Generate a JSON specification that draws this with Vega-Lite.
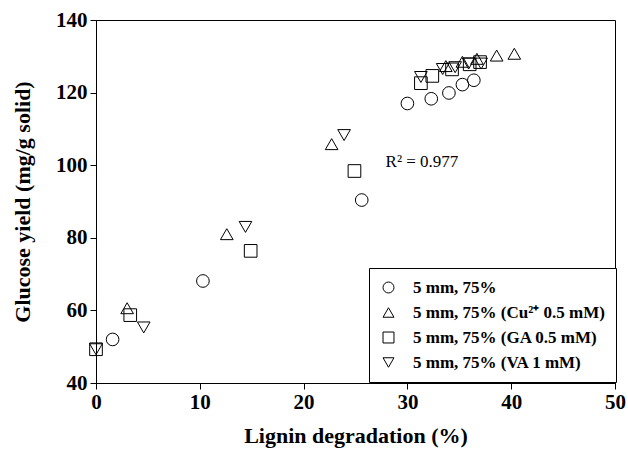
{
  "$schema": "https://vega.github.io/schema/vega-lite/v6.json",
  "width": 519,
  "height": 363,
  "autosize": "none",
  "padding": {"left": 96, "top": 20, "right": 13, "bottom": 82},
  "config": {
    "view": {"stroke": "black", "strokeWidth": 1},
    "font": "Liberation Serif"
  },
  "datasets": {
    "pts": [
      {"series": "5 mm, 75%", "lignin": 1.6, "glucose": 52.0},
      {"series": "5 mm, 75%", "lignin": 10.3, "glucose": 68.1},
      {"series": "5 mm, 75%", "lignin": 25.6, "glucose": 90.4},
      {"series": "5 mm, 75%", "lignin": 30.0, "glucose": 117.0},
      {"series": "5 mm, 75%", "lignin": 32.3, "glucose": 118.3},
      {"series": "5 mm, 75%", "lignin": 34.0, "glucose": 119.9},
      {"series": "5 mm, 75%", "lignin": 35.3, "glucose": 122.2},
      {"series": "5 mm, 75%", "lignin": 36.4, "glucose": 123.4},
      {"series": "5 mm, 75% (Cu²⁺ 0.5 mM)", "lignin": 3.0, "glucose": 60.6},
      {"series": "5 mm, 75% (Cu²⁺ 0.5 mM)", "lignin": 12.6, "glucose": 81.0},
      {"series": "5 mm, 75% (Cu²⁺ 0.5 mM)", "lignin": 22.7, "glucose": 105.8},
      {"series": "5 mm, 75% (Cu²⁺ 0.5 mM)", "lignin": 33.7, "glucose": 127.3},
      {"series": "5 mm, 75% (Cu²⁺ 0.5 mM)", "lignin": 35.3, "glucose": 128.5},
      {"series": "5 mm, 75% (Cu²⁺ 0.5 mM)", "lignin": 36.7, "glucose": 129.3},
      {"series": "5 mm, 75% (Cu²⁺ 0.5 mM)", "lignin": 38.6, "glucose": 130.2},
      {"series": "5 mm, 75% (Cu²⁺ 0.5 mM)", "lignin": 40.3, "glucose": 130.7},
      {"series": "5 mm, 75% (GA 0.5 mM)", "lignin": 0.0, "glucose": 49.3},
      {"series": "5 mm, 75% (GA 0.5 mM)", "lignin": 3.3, "glucose": 58.7},
      {"series": "5 mm, 75% (GA 0.5 mM)", "lignin": 14.9, "glucose": 76.4},
      {"series": "5 mm, 75% (GA 0.5 mM)", "lignin": 24.9, "glucose": 98.4},
      {"series": "5 mm, 75% (GA 0.5 mM)", "lignin": 31.3, "glucose": 122.6},
      {"series": "5 mm, 75% (GA 0.5 mM)", "lignin": 32.4, "glucose": 124.6},
      {"series": "5 mm, 75% (GA 0.5 mM)", "lignin": 34.3, "glucose": 126.4},
      {"series": "5 mm, 75% (GA 0.5 mM)", "lignin": 36.0, "glucose": 127.8},
      {"series": "5 mm, 75% (GA 0.5 mM)", "lignin": 37.0, "glucose": 128.4},
      {"series": "5 mm, 75% (VA 1 mM)", "lignin": 0.0, "glucose": 49.3},
      {"series": "5 mm, 75% (VA 1 mM)", "lignin": 4.6, "glucose": 55.3},
      {"series": "5 mm, 75% (VA 1 mM)", "lignin": 14.4, "glucose": 83.0},
      {"series": "5 mm, 75% (VA 1 mM)", "lignin": 23.9, "glucose": 108.3},
      {"series": "5 mm, 75% (VA 1 mM)", "lignin": 31.3, "glucose": 124.3},
      {"series": "5 mm, 75% (VA 1 mM)", "lignin": 33.4, "glucose": 126.5},
      {"series": "5 mm, 75% (VA 1 mM)", "lignin": 34.6, "glucose": 127.0},
      {"series": "5 mm, 75% (VA 1 mM)", "lignin": 35.9, "glucose": 128.0},
      {"series": "5 mm, 75% (VA 1 mM)", "lignin": 37.1, "glucose": 128.0}
    ],
    "note": [
      {"label": "R² = 0.977", "lignin": 27.9, "glucose": 100.9}
    ]
  },
  "layer": [
    {
      "data": {"name": "pts"},
      "mark": {"type": "point", "filled": false, "stroke": "black", "strokeWidth": 1, "size": 160, "opacity": 1},
      "encoding": {
        "x": {
          "field": "lignin", "type": "quantitative",
          "scale": {"domain": [0, 50], "nice": false, "zero": false},
          "axis": {
            "title": "Lignin degradation (%)",
            "values": [0, 10, 20, 30, 40, 50],
            "grid": false,
            "domainColor": "black", "tickColor": "black", "tickSize": 6,
            "labelFont": "Liberation Serif", "labelFontWeight": "bold", "labelFontSize": 21, "labelColor": "black",
            "labelPadding": 2, "labelFlush": false,
            "titleFont": "Liberation Serif", "titleFontWeight": "bold", "titleFontSize": 22, "titleColor": "black",
            "titlePadding": 13
          }
        },
        "y": {
          "field": "glucose", "type": "quantitative",
          "scale": {"domain": [40, 140], "nice": false, "zero": false},
          "axis": {
            "title": "Glucose yield (mg/g solid)",
            "values": [40, 60, 80, 100, 120, 140],
            "grid": false,
            "domainColor": "black", "tickColor": "black", "tickSize": 6,
            "labelFont": "Liberation Serif", "labelFontWeight": "bold", "labelFontSize": 21, "labelColor": "black",
            "labelPadding": 3, "labelFlush": false,
            "titleFont": "Liberation Serif", "titleFontWeight": "bold", "titleFontSize": 22, "titleColor": "black",
            "titlePadding": 21
          }
        },
        "shape": {
          "field": "series", "type": "nominal",
          "scale": {
            "domain": ["5 mm, 75%", "5 mm, 75% (Cu²⁺ 0.5 mM)", "5 mm, 75% (GA 0.5 mM)", "5 mm, 75% (VA 1 mM)"],
            "range": ["circle", "triangle-up", "square", "triangle-down"]
          },
          "legend": {
            "title": null,
            "orient": "none",
            "legendX": 273,
            "legendY": 248,
            "strokeColor": "black",
            "fillColor": "white",
            "padding": 11,
            "symbolSize": 120,
            "symbolStrokeColor": "black",
            "symbolStrokeWidth": 1,
            "symbolFillColor": "transparent",
            "labelFont": "Liberation Serif",
            "labelFontWeight": "bold",
            "labelFontSize": 17,
            "labelColor": "black",
            "labelOffset": 16,
            "labelLimit": 400,
            "rowPadding": 7
          }
        }
      }
    },
    {
      "data": {"name": "note"},
      "mark": {"type": "text", "align": "left", "baseline": "middle", "font": "Liberation Serif", "fontSize": 17, "color": "black"},
      "encoding": {
        "x": {"field": "lignin", "type": "quantitative"},
        "y": {"field": "glucose", "type": "quantitative"},
        "text": {"field": "label"}
      }
    }
  ]
}
